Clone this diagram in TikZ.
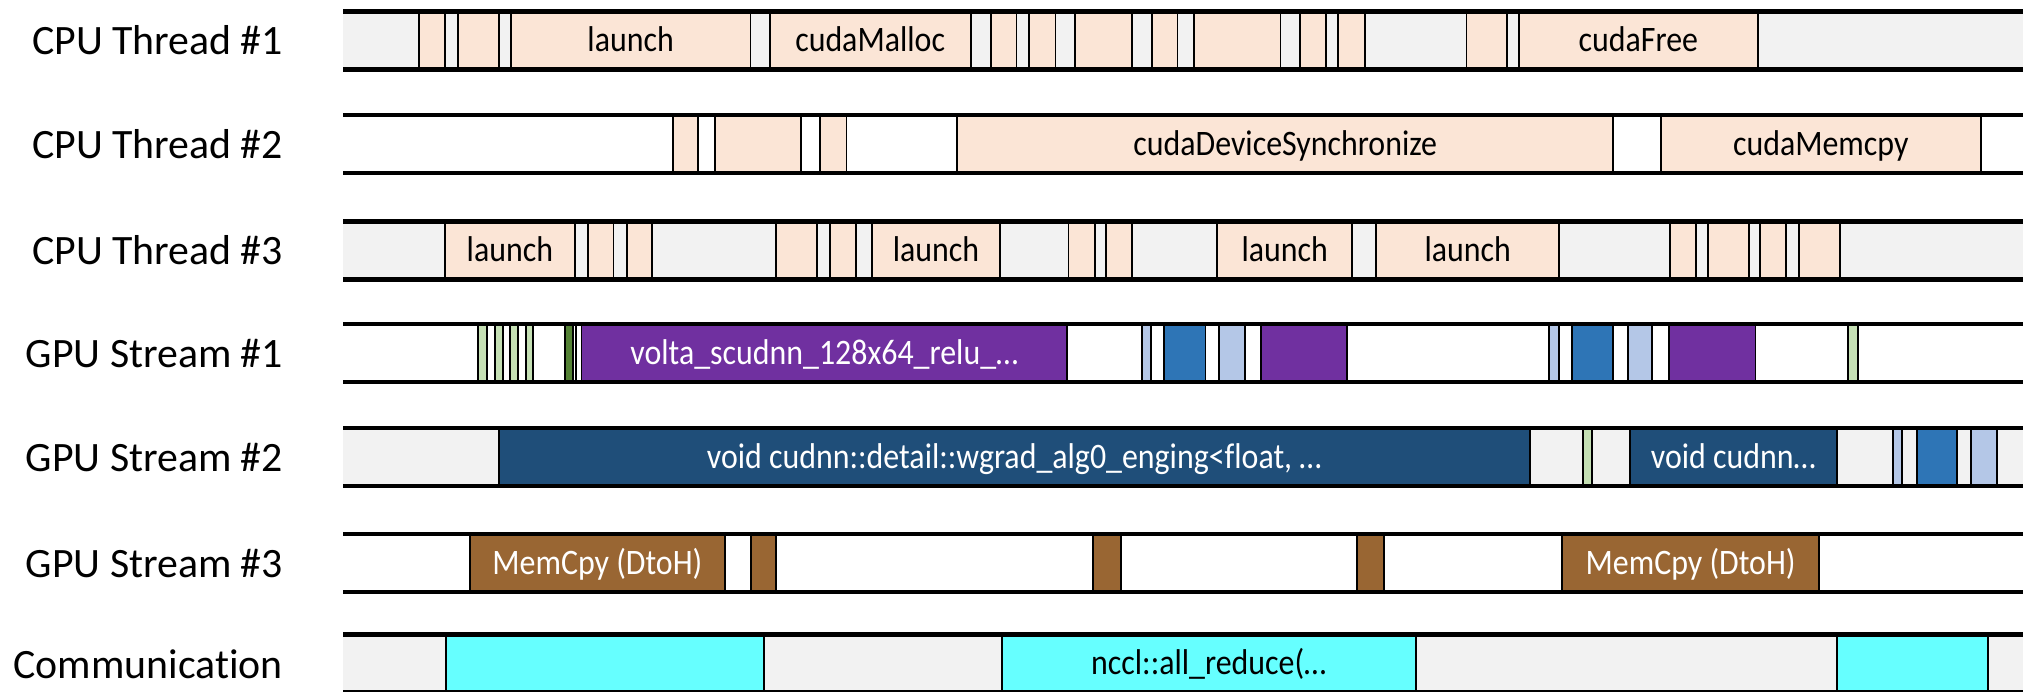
\documentclass[tikz,border=0pt]{standalone}
\usepackage{fontspec}
\setmainfont{Carlito}[Ligatures=NoCommon]
\newfontfamily\slicefont[FakeStretch=0.89,Ligatures=NoCommon]{Carlito}

\definecolor{lanegray}{HTML}{F2F2F2}
\definecolor{apicall}{HTML}{FBE5D6}
\definecolor{kgreen}{HTML}{C5E0B4}
\definecolor{kdgreen}{HTML}{548235}
\definecolor{kpurple}{HTML}{7030A0}
\definecolor{klblue}{HTML}{B4C7E7}
\definecolor{kblue}{HTML}{2E75B6}
\definecolor{kdblue}{HTML}{1F4E79}
\definecolor{kbrown}{HTML}{996633}
\definecolor{kcyan}{HTML}{66FFFF}

% one event on a lane: name, lane top, x start, x end, style, label
\newcommand\tslice[6]{\node[slice,#5,minimum width={(#4-#3)*0.02cm}] (#1) at ({(#3+#4)/2},{#2+29}) {#6};}
% one lane: background fill and its two rails
\newcommand\lanebg[2]{\fill[#2] (343,#1) rectangle (2023,{#1+58});}
\newcommand\lanerails[1]{\draw[rail] (343,#1) -- (2023,#1); \draw[rail] (343,{#1+58}) -- (2023,{#1+58});}

\begin{document}
\begin{tikzpicture}[x=0.02cm,y=-0.02cm,
  rowlabel/.style={anchor=base east, inner sep=0pt, font=\fontsize{23.8}{28}\selectfont},
  slice/.style={draw=black, line width=1.1pt, inner sep=0pt, outer sep=0pt,
    minimum height=1.16cm, text height=0.46cm, text depth=0cm,
    font=\slicefont\fontsize{20.4}{24}\selectfont},
  api/.style={fill=apicall},
  gk/.style={fill=kgreen},
  dgk/.style={fill=kdgreen},
  wk/.style={fill=white},
  pk/.style={fill=kpurple, text=white},
  lbk/.style={fill=klblue},
  bk/.style={fill=kblue},
  dbk/.style={fill=kdblue, text=white},
  mc/.style={fill=kbrown, text=white},
  nc/.style={fill=kcyan},
  rail/.style={line width=2.83pt, black}]
\useasboundingbox (0,0) rectangle (2023,692);

% lane labels
\node[rowlabel] (l1) at (283.3,55)    {CPU Thread \#1};
\node[rowlabel] (l2) at (283.3,158.5) {CPU Thread \#2};
\node[rowlabel] (l3) at (283.3,265)   {CPU Thread \#3};
\node[rowlabel] (l4) at (283.3,367.5) {GPU Stream \#1};
\node[rowlabel] (l5) at (283.3,471.5) {GPU Stream \#2};
\node[rowlabel] (l6) at (283.3,577.5) {GPU Stream \#3};
\node[rowlabel] (l7) at (283.3,678)   {Communication};

% lane backgrounds
\lanebg{11.5}{lanegray}
\lanebg{115}{white}
\lanebg{221.5}{lanegray}
\lanebg{324}{white}
\lanebg{428}{lanegray}
\lanebg{534}{white}
\lanebg{634.5}{lanegray}

% CPU Thread #1
\tslice{a1}{11.5}{419.3}{445.2}{api}{}
\tslice{a2}{11.5}{458.1}{498.7}{api}{}
\tslice{a3}{11.5}{510.8}{750.5}{api}{launch}
\tslice{a4}{11.5}{769.7}{970.6}{api}{cudaMalloc}
\tslice{a5}{11.5}{990.7}{1016.5}{api}{}
\tslice{a6}{11.5}{1029.4}{1055.5}{api}{}
\tslice{a7}{11.5}{1075}{1131.8}{api}{}
\tslice{a8}{11.5}{1152}{1177.5}{api}{}
\tslice{a9}{11.5}{1193.8}{1280.5}{api}{}
\tslice{a10}{11.5}{1300}{1326}{api}{}
\tslice{a11}{11.5}{1338}{1365.3}{api}{}
\tslice{a12}{11.5}{1466.5}{1507}{api}{}
\tslice{a13}{11.5}{1518.7}{1758}{api}{cudaFree}

% CPU Thread #2
\tslice{b1}{115}{672.8}{698.3}{api}{}
\tslice{b2}{115}{714.8}{801}{api}{}
\tslice{b3}{115}{820}{846.5}{api}{}
\tslice{b4}{115}{957.2}{1613.3}{api}{cudaDeviceSynchronize}
\tslice{b5}{115}{1660.9}{1980.6}{api}{cudaMemcpy}

% CPU Thread #3
\tslice{c1}{221.5}{445.2}{574.6}{api}{launch}
\tslice{c2}{221.5}{588}{613.5}{api}{}
\tslice{c3}{221.5}{626.9}{652.3}{api}{}
\tslice{c4}{221.5}{776.4}{816.6}{api}{}
\tslice{c5}{221.5}{830}{855.9}{api}{}
\tslice{c6}{221.5}{872.4}{999.6}{api}{launch}
\tslice{c7}{221.5}{1068.5}{1094.6}{api}{}
\tslice{c8}{221.5}{1106.3}{1132.4}{api}{}
\tslice{c9}{221.5}{1217.3}{1352.3}{api}{launch}
\tslice{c10}{221.5}{1376.4}{1559.1}{api}{launch}
\tslice{c11}{221.5}{1670}{1696.1}{api}{}
\tslice{c12}{221.5}{1707.9}{1749}{api}{}
\tslice{c13}{221.5}{1760}{1786.1}{api}{}
\tslice{c14}{221.5}{1799.2}{1839.6}{api}{}

% GPU Stream #1
\tslice{d1}{324}{478.3}{487.3}{gk}{}
\tslice{d2}{324}{495}{502.7}{gk}{}
\tslice{d3}{324}{510}{518.3}{gk}{}
\tslice{d4}{324}{525.7}{533.3}{gk}{}
\tslice{d5}{324}{565}{573.3}{dgk}{}
\tslice{d6}{324}{573.3}{575.8}{wk}{}
\tslice{d7}{324}{581.5}{1067.2}{pk}{volta\_scudnn\_128x64\_relu\_…}
\tslice{d8}{324}{1141.6}{1151.4}{lbk}{}
\tslice{d9}{324}{1164.4}{1205.5}{bk}{}
\tslice{d10}{324}{1218.6}{1244.7}{lbk}{}
\tslice{d11}{324}{1261}{1347}{pk}{}
\tslice{d12}{324}{1549.3}{1559.1}{lbk}{}
\tslice{d13}{324}{1572.2}{1613.3}{bk}{}
\tslice{d14}{324}{1627.6}{1652.4}{lbk}{}
\tslice{d15}{324}{1668.7}{1755.5}{pk}{}
\tslice{d16}{324}{1848.3}{1858.3}{gk}{}

% GPU Stream #2
\tslice{e1}{428}{498.7}{1529.7}{dbk}{void cudnn::detail::wgrad\_alg0\_enging<float, …}
\tslice{e2}{428}{1582.6}{1591.7}{gk}{}
\tslice{e3}{428}{1629.6}{1837}{dbk}{void cudnn…}
\tslice{e4}{428}{1893.3}{1902.3}{lbk}{}
\tslice{e5}{428}{1916.7}{1957.3}{bk}{}
\tslice{e6}{428}{1971}{1996.7}{lbk}{}

% GPU Stream #3
\tslice{f1}{534}{469.7}{725}{mc}{MemCpy (DtoH)}
\tslice{f2}{534}{751}{776.4}{mc}{}
\tslice{f3}{534}{1093.3}{1120.7}{mc}{}
\tslice{f4}{534}{1356.9}{1383.6}{mc}{}
\tslice{f5}{534}{1562.4}{1818.8}{mc}{MemCpy (DtoH)}

% Communication
\tslice{g1}{634.5}{446}{764}{nc}{}
\tslice{g2}{634.5}{1001.8}{1415.6}{nc}{nccl::all\_reduce(…}
\tslice{g3}{634.5}{1837}{1988.4}{nc}{}

% rails on top of every lane
\lanerails{11.5}
\lanerails{115}
\lanerails{221.5}
\lanerails{324}
\lanerails{428}
\lanerails{534}
\lanerails{634.5}
\end{tikzpicture}
\end{document}
